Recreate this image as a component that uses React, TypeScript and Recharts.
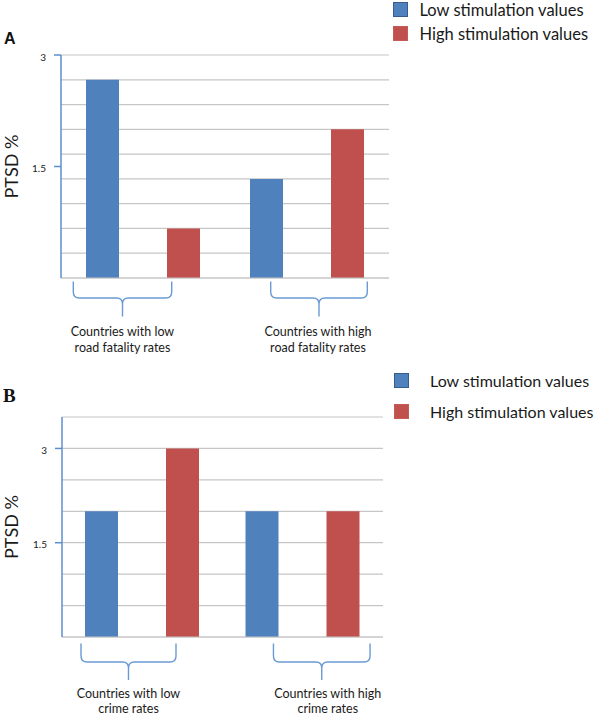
import { BarChart, Bar, XAxis, YAxis, CartesianGrid, Legend } from "recharts";

const FONT = "Lato, 'Open Sans', sans-serif";
const BLUE = "#4f81bd";
const RED = "#c0504d";
const AXIS_BLUE = "#5b8fd0";
const BRACE_BLUE = "#6a9ad4";
const GRID = "#c6c6c6";

const SERIES = ["Low stimulation values", "High stimulation values"];
const SERIES_COLORS = [BLUE, RED];
const SERIES_BORDERS = ["#385d8a", "#c55a57"];

// panel A: road fatality
const GROUPS_A = ["low road fatality", "high road fatality"];
const LOW_A = [2.667, 1.333];
const HIGH_A = [0.667, 2.0];
const LABELS_A = [
  ["Countries with low", "road fatality rates"],
  ["Countries with high", "road fatality rates"],
];
const TICKS_A = [1.5, 3];
const GRID_A = [0, 1 / 3, 2 / 3, 1, 4 / 3, 5 / 3, 2, 7 / 3, 8 / 3, 3];

// panel B: crime
const GROUPS_B = ["low crime", "high crime"];
const LOW_B = [2.0, 2.0];
const HIGH_B = [3.0, 2.0];
const LABELS_B = [
  ["Countries with low", "crime rates"],
  ["Countries with high", "crime rates"],
];
const TICKS_B = [1.5, 3];
const GRID_B = [0, 0.5, 1, 1.5, 2, 2.5, 3, 3.5];

type BraceCfg = {
  shift: number[];
  half: number[];
  textDx: number[];
  top: number;
  mid: number;
  bottom: number;
  line1: number;
  line2: number;
};

function BracketTick(props: any) {
  const { x, y, payload, index, cfg, labels } = props;
  const c: BraceCfg = cfg;
  const i = index ?? payload?.index ?? 0;
  const cx = x + c.shift[i];
  const L = cx - c.half[i];
  const R = cx + c.half[i];
  const t = y + c.top;
  const h = y + c.mid;
  const b = y + c.bottom;
  const r = 6;
  const d =
    `M${L},${t} L${L},${h - r} Q${L},${h} ${L + r},${h} L${cx - r},${h} Q${cx},${h} ${cx},${h + r} L${cx},${b} ` +
    `M${R},${t} L${R},${h - r} Q${R},${h} ${R - r},${h} L${cx + r},${h} Q${cx},${h} ${cx},${h + r}`;
  const tx = cx + c.textDx[i];
  return (
    <g>
      <path d={d} fill="none" stroke={BRACE_BLUE} strokeWidth={1.4} />
      <text x={tx} y={y + c.line1 + 4.5} textAnchor="middle" fontSize={12.5} fontFamily={FONT} fill="#1a1a1a">
        {labels[i][0]}
      </text>
      <text x={tx} y={y + c.line2 + 4.5} textAnchor="middle" fontSize={12.5} fontFamily={FONT} fill="#1a1a1a">
        {labels[i][1]}
      </text>
    </g>
  );
}

// legend drawn in series order (low first), like the original
function makeLegend(rowH: number, gap: number, size: number) {
  return () => (
    <div style={{ fontFamily: FONT, fontSize: size, color: "#1a1a1a" }}>
      {SERIES.map((name, i) => (
        <div key={name} style={{ height: rowH, display: "flex", alignItems: "center", whiteSpace: "nowrap" }}>
          <span
            style={{
              display: "inline-block",
              flexShrink: 0,
              width: 15,
              height: 15,
              boxSizing: "border-box",
              background: SERIES_COLORS[i],
              border: `1px solid ${SERIES_BORDERS[i]}`,
              marginRight: gap,
            }}
          />
          {name}
        </div>
      ))}
    </div>
  );
}

const yLabel = (p: any) => {
  const vb = p.viewBox || {};
  const cx = vb.x + 8;
  const cy = vb.y + vb.height / 2;
  return (
    <text
      x={cx}
      y={cy}
      transform={`rotate(-90, ${cx}, ${cy})`}
      textAnchor="middle"
      fontSize={18}
      fontFamily={FONT}
      fill="#1a1a1a"
    >
      PTSD %
    </text>
  );
};

type PanelProps = {
  groups: string[];
  low: number[];
  high: number[];
  labels: string[][];
  ticks: number[];
  grid: number[];
  max: number;
  height: number;
  margin: { top: number; right: number; left: number; bottom: number };
  yWidth: number;
  xHeight: number;
  brace: BraceCfg;
  legendTop: number;
  legendLeft: number;
  legendRow: number;
  legendGap: number;
  legendSize: number;
};

function Panel(p: PanelProps) {
  const data = p.groups.map((g, i) => ({ group: g, low: p.low[i], high: p.high[i] }));
  return (
    <BarChart width={600} height={p.height} data={data} margin={p.margin} barSize={33} barGap={48}>
      <CartesianGrid vertical={false} horizontalValues={p.grid} stroke={GRID} strokeWidth={1.2} />
      <XAxis
        dataKey="group"
        height={p.xHeight}
        interval={0}
        tickLine={false}
        tickSize={0}
        tickMargin={0}
        axisLine={{ stroke: GRID, strokeWidth: 1.2 }}
        tick={(tp: any) => <BracketTick {...tp} cfg={p.brace} labels={p.labels} />}
      />
      <YAxis
        width={p.yWidth}
        domain={[0, p.max]}
        ticks={p.ticks}
        interval={0}
        axisLine={{ stroke: AXIS_BLUE, strokeWidth: 1.5 }}
        tickLine={{ stroke: AXIS_BLUE, strokeWidth: 1.5 }}
        tickSize={7}
        tickMargin={8}
        tick={{ fontSize: 10, fontFamily: FONT, fill: "#1a1a1a", dy: 2 }}
        label={yLabel}
      />
      <Legend
        layout="vertical"
        align="center"
        verticalAlign="middle"
        wrapperStyle={{ top: p.legendTop, left: p.legendLeft, width: 600 - p.legendLeft, height: "auto" }}
        content={makeLegend(p.legendRow, p.legendGap, p.legendSize)}
      />
      <Bar dataKey="low" name={SERIES[0]} fill={BLUE} isAnimationActive={false} />
      <Bar dataKey="high" name={SERIES[1]} fill={RED} isAnimationActive={false} />
    </BarChart>
  );
}

export default function App() {
  return (
    <div style={{ position: "absolute", left: 0, top: 0, width: 600, height: 715, background: "#fff", overflow: "hidden" }}>
      <div style={{ position: "absolute", left: 0, top: 0 }}>
        <Panel
          groups={GROUPS_A}
          low={LOW_A}
          high={HIGH_A}
          labels={LABELS_A}
          ticks={TICKS_A}
          grid={GRID_A}
          max={3}
          height={360}
          margin={{ top: 55, right: 211, left: 10, bottom: 2 }}
          yWidth={51}
          xHeight={80}
          brace={{ shift: [-20.5, 12], half: [49.2, 48.3], textDx: [0, -1], top: 3.5, mid: 20, bottom: 38.5, line1: 53, line2: 69 }}
          legendTop={-2.5}
          legendLeft={392.5}
          legendRow={24}
          legendGap={12}
          legendSize={16.5}
        />
      </div>
      <div style={{ position: "absolute", left: 0, top: 360 }}>
        <Panel
          groups={GROUPS_B}
          low={LOW_B}
          high={HIGH_B}
          labels={LABELS_B}
          ticks={TICKS_B}
          grid={GRID_B}
          max={3.5}
          height={355}
          margin={{ top: 57, right: 217, left: 10, bottom: 2 }}
          yWidth={52}
          xHeight={76}
          brace={{ shift: [-13.75, 19], half: [47.5, 48.3], textDx: [0, 6], top: 6.5, mid: 25, bottom: 43, line1: 56, line2: 71 }}
          legendTop={5}
          legendLeft={394}
          legendRow={31}
          legendGap={21}
          legendSize={16}
        />
      </div>
      <div
        style={{
          position: "absolute",
          left: 4,
          top: 30.5,
          fontFamily: "'Liberation Sans', Arial, sans-serif",
          fontWeight: 700,
          fontSize: 16,
          lineHeight: "16px",
          color: "#111",
        }}
      >
        A
      </div>
      <div
        style={{
          position: "absolute",
          left: 3,
          top: 386,
          fontFamily: "'Liberation Serif', serif",
          fontWeight: 700,
          fontSize: 19,
          lineHeight: "19px",
          color: "#111",
        }}
      >
        B
      </div>
    </div>
  );
}
